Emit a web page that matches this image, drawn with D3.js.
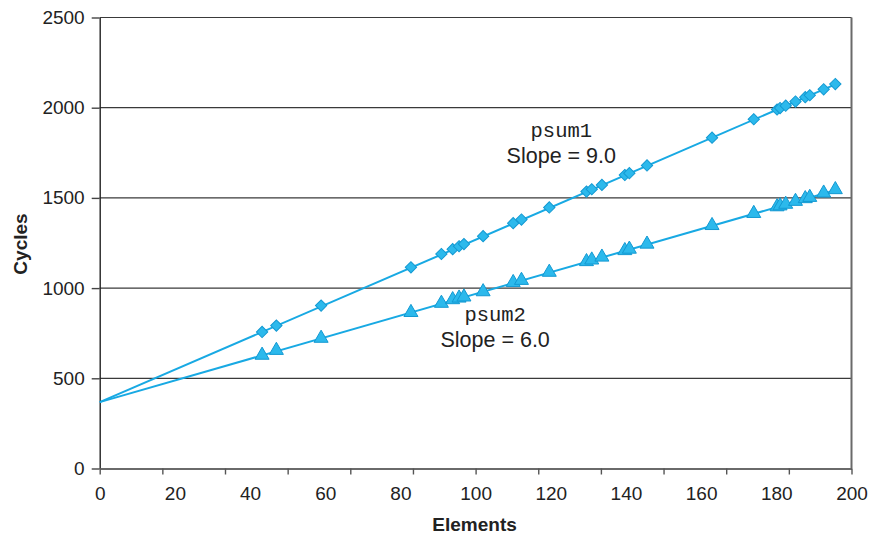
<!DOCTYPE html>
<html>
<head>
<meta charset="utf-8">
<script src="https://cdn.jsdelivr.net/npm/d3@7"></script>
<style>
  html, body { margin: 0; padding: 0; background: #fff; }
  svg { display: block; }
</style>
</head>
<body>
<svg id="chart" width="870" height="535"></svg>
<script>
// ---- data ----
const elements = [43.2, 47.0, 58.9, 82.8, 90.9, 93.9, 95.6, 96.9, 102.0, 110.0, 112.2, 119.6,
  129.5, 130.9, 133.6, 139.7, 140.9, 145.6, 162.9, 174.0, 180.2, 181.0, 182.5, 185.1, 187.7,
  188.9, 192.6, 195.7];
const psum1 = [757, 792, 903, 1115, 1189, 1216, 1232, 1244, 1288, 1360, 1380, 1447, 1535, 1548,
  1572, 1627, 1637, 1680, 1834, 1936, 1990, 1998, 2011, 2034, 2058, 2069, 2102, 2131];
const psum2 = [628, 655, 722, 865, 916, 936, 945, 951, 980, 1031, 1043, 1088, 1147, 1156, 1172,
  1208, 1216, 1244, 1347, 1414, 1451, 1456, 1465, 1481, 1496, 1503, 1527, 1546];
const fitX = [0, 195.7];
const psum1Fit = [368, 2129];
const psum2Fit = [368, 1542];
const xTickLabels = [0, 20, 40, 60, 80, 100, 120, 140, 160, 180, 200];
const xTickMarks = d3.range(0, 13).map(i => i * 200 / 12);
const yTicks = [0, 500, 1000, 1500, 2000, 2500];
const annotations = [
  { name: "psum1", slope: "Slope = 9.0", x: 122.8, y: 1840 },
  { name: "psum2", slope: "Slope = 6.0", x: 105.2, y: 820 }
];

// ---- layout ----
const svg = d3.select("#chart");
const pLeft = 99.7, pRight = 851.5, pTop = 17.5, pBottom = 468.5;
const x = d3.scaleLinear().domain([0, 200]).range([pLeft, pRight]);
const y = d3.scaleLinear().domain([0, 2500]).range([pBottom, pTop]);

const lineColor = "#18a9e3";
const markFill = "#2cb9ec";
const markStroke = "#1399d2";
const font = "'Liberation Sans', Arial, Helvetica, sans-serif";

// gridlines
svg.append("g")
  .selectAll("line")
  .data(yTicks.filter(d => d > 0))
  .join("line")
  .attr("x1", pLeft).attr("x2", pRight)
  .attr("y1", d => y(d)).attr("y2", d => y(d))
  .attr("stroke", "#3a3a3a").attr("stroke-width", 1.2);

// right border
svg.append("line")
  .attr("x1", pRight).attr("x2", pRight)
  .attr("y1", pTop).attr("y2", pBottom)
  .attr("stroke", "#6a6a6a").attr("stroke-width", 2);

// y axis
const yAxis = svg.append("g")
  .attr("transform", `translate(${pLeft},0)`)
  .call(d3.axisLeft(y).tickValues(yTicks).tickSize(8).tickPadding(7).tickSizeOuter(0)
    .tickFormat(d3.format("d")));
yAxis.select(".domain").attr("stroke", "#222").attr("stroke-width", 1.4);
yAxis.selectAll(".tick line").attr("stroke", "#444").attr("stroke-width", 1.4);
yAxis.selectAll(".tick text")
  .attr("font-family", font).attr("font-size", 19).attr("fill", "#222");

// x axis: tick marks
const xMarks = svg.append("g")
  .attr("transform", `translate(0,${pBottom})`)
  .call(d3.axisBottom(x).tickValues(xTickMarks).tickSize(6).tickFormat("").tickSizeOuter(0));
xMarks.select(".domain").attr("stroke", "#6a6a6a").attr("stroke-width", 2.2);
xMarks.selectAll(".tick line").attr("stroke", "#555").attr("stroke-width", 1.4);

// x axis: labels
const xLabels = svg.append("g")
  .attr("transform", `translate(0,${pBottom})`)
  .call(d3.axisBottom(x).tickValues(xTickLabels).tickSize(0).tickPadding(18).tickFormat(d3.format("d")));
xLabels.select(".domain").remove();
xLabels.selectAll(".tick text")
  .attr("font-family", font).attr("font-size", 19).attr("fill", "#222");

// axis titles
svg.append("text")
  .attr("x", (pLeft + pRight) / 2 - 1).attr("y", 531)
  .attr("text-anchor", "middle")
  .attr("font-family", font).attr("font-size", 19).attr("font-weight", "bold").attr("fill", "#222")
  .text("Elements");
svg.append("text")
  .attr("transform", `translate(27,${(pTop + pBottom) / 2 + 1}) rotate(-90)`)
  .attr("text-anchor", "middle")
  .attr("font-family", font).attr("font-size", 19).attr("font-weight", "bold").attr("fill", "#222")
  .text("Cycles");

// fit lines
const line = d3.line().x(d => x(d[0])).y(d => y(d[1]));
[psum1Fit, psum2Fit].forEach(fit => {
  svg.append("path")
    .datum(fitX.map((v, i) => [v, fit[i]]))
    .attr("d", line)
    .attr("fill", "none")
    .attr("stroke", lineColor)
    .attr("stroke-width", 2);
});

// markers
const diamond = d3.symbol().type(d3.symbolSquare).size(64);
svg.append("g")
  .selectAll("path")
  .data(elements.map((e, i) => [e, psum1[i]]))
  .join("path")
  .attr("d", diamond)
  .attr("transform", d => `translate(${x(d[0])},${y(d[1])}) rotate(45)`)
  .attr("fill", markFill).attr("stroke", markStroke).attr("stroke-width", 1);

const tri = d3.symbol().type(d3.symbolTriangle).size(85);
svg.append("g")
  .selectAll("path")
  .data(elements.map((e, i) => [e, psum2[i]]))
  .join("path")
  .attr("d", tri)
  .attr("transform", d => `translate(${x(d[0])},${y(d[1])})`)
  .attr("fill", markFill).attr("stroke", markStroke).attr("stroke-width", 1);

// annotations
annotations.forEach(a => {
  svg.append("text")
    .attr("x", x(a.x)).attr("y", y(a.y))
    .attr("text-anchor", "middle")
    .attr("font-family", "'Liberation Mono', 'Courier New', monospace")
    .attr("font-size", 20.5).attr("fill", "#222")
    .text(a.name);
  svg.append("text")
    .attr("x", x(a.x)).attr("y", y(a.y) + 26)
    .attr("text-anchor", "middle")
    .attr("font-family", font).attr("font-size", 21.5).attr("fill", "#222")
    .text(a.slope);
});
</script>
</body>
</html>
